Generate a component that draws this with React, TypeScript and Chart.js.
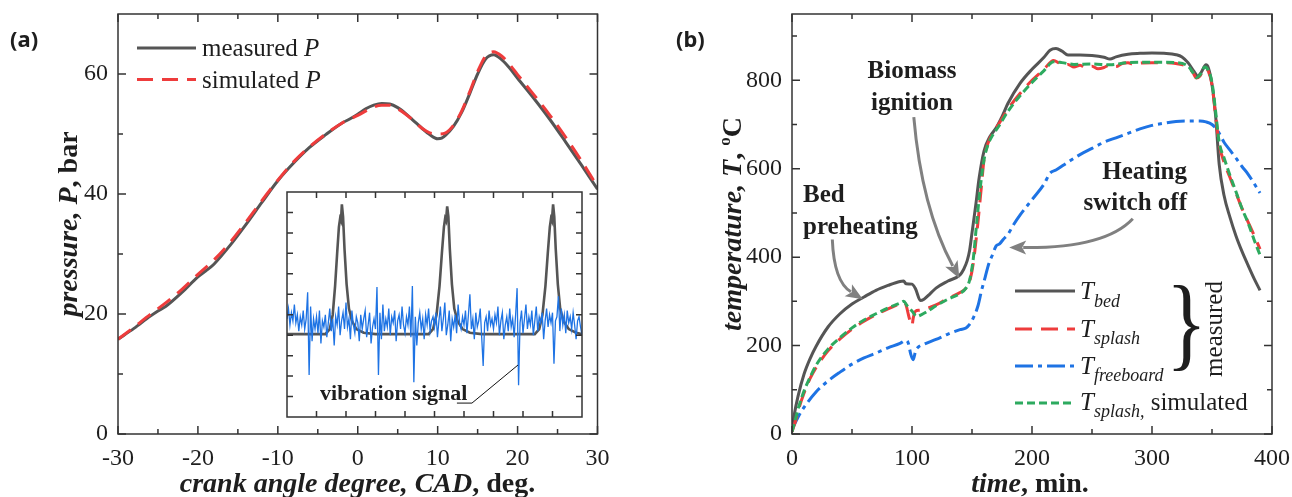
import React, { useEffect, useRef } from 'react';
import { Chart, registerables } from 'chart.js';

Chart.register(...registerables);

const SERIF = '"Liberation Serif", "Times New Roman", serif';
const SANS = '"Noto Sans", "Liberation Sans", sans-serif';
const INK = '#1e1e1e';
const FRAME = '#333333';
const GRAY = 'rgb(85,85,85)';
const RED = 'rgb(238,60,60)';
const BLUE = 'rgb(30,115,228)';
const GREEN = 'rgb(45,170,95)';
const ARROW = 'rgb(128,128,128)';

// ---------------- Panel (a): pressure vs crank angle ----------------
const cadMeasured = [-30, -28, -26, -25, -24, -22, -20, -19, -18, -16, -14, -12, -10, -8, -6, -4, -2, -1, 0, 1, 2, 3, 4, 5, 6, 7, 8, 9, 10, 10.5, 11, 12, 13, 14, 15, 16, 17, 18, 19, 20, 22, 24, 26, 28, 30];
const pMeasured = [15.8, 17.6, 19.6, 20.5, 21.3, 23.6, 26.2, 27.2, 28.3, 31.4, 34.9, 38.6, 42.2, 45.2, 47.8, 49.9, 51.8, 52.5, 53.3, 54.2, 54.8, 55.1, 55.0, 54.4, 53.4, 52.2, 51.0, 49.9, 49.2, 49.3, 49.8, 51.3, 53.6, 56.7, 60.0, 62.5, 63.2, 62.4, 61.0, 59.3, 56.0, 52.5, 48.7, 44.8, 40.8];
const cadSimulated = [-30, -28, -26, -24, -22, -20, -18, -16, -14, -12, -10, -8, -6, -4, -2, 0, 2, 3, 4, 5, 6, 7, 8, 9, 10, 11, 12, 13, 14, 15, 16, 17, 18, 19, 20, 22, 24, 26, 28, 30];
const pSimulated = [15.8, 17.8, 19.9, 21.9, 24.1, 26.6, 29.0, 31.9, 35.3, 38.9, 42.3, 45.4, 47.9, 50.0, 51.8, 53.1, 54.5, 54.8, 54.8, 54.2, 53.3, 52.2, 51.0, 50.2, 50.0, 50.2, 51.5, 53.8, 57.0, 60.4, 63.0, 63.7, 63.0, 61.6, 59.9, 56.6, 53.2, 49.5, 45.5, 41.2];
const cadTicks = [-30, -20, -10, 0, 10, 20, 30];
const cadMinorTicks = [-25, -15, -5, 5, 15, 25];
const pTicks = [0, 20, 40, 60];
const pMinorTicks = [10, 30, 50];

// inset: pressure pulses and vibration signal (arbitrary units)
const insetPressureX = [0, 1.3, 1.45, 1.55, 1.63, 1.7, 1.76, 1.8, 1.83, 1.86, 1.9, 1.95, 2.02, 2.1, 2.2, 2.35, 2.6, 3.0, 4.8, 4.95, 5.07, 5.17, 5.25, 5.32, 5.36, 5.39, 5.43, 5.47, 5.52, 5.59, 5.67, 5.78, 5.95, 6.2, 6.6, 8.4, 8.55, 8.66, 8.76, 8.84, 8.91, 8.95, 8.98, 9.02, 9.06, 9.11, 9.18, 9.26, 9.37, 9.55, 9.8, 10];
const insetPressureY = [4.05, 4.05, 4.3, 5.0, 6.4, 8.0, 9.3, 9.7, 9.6, 10.4, 9.8, 8.2, 6.5, 5.3, 4.7, 4.3, 4.12, 4.05, 4.05, 4.3, 5.0, 6.4, 8.0, 9.3, 9.7, 9.6, 10.3, 9.8, 8.2, 6.5, 5.3, 4.7, 4.3, 4.12, 4.05, 4.05, 4.3, 5.0, 6.4, 8.0, 9.3, 9.7, 9.6, 10.4, 9.8, 8.2, 6.5, 5.3, 4.7, 4.3, 4.12, 4.05];
const vibrationStep = 0.05;
const vibrationSignal = [
  4.8, 5.3, 4.5, 5.1, 4.7, 5.5, 4.6, 5.0, 4.2, 4.9, 4.5, 5.2, 4.3, 4.8, 6.1, 2.05, 5.4, 3.7, 4.8, 4.3,
  4.9, 4.1, 5.2, 3.6, 4.7, 4.4, 5.0, 3.9, 4.6, 5.3, 4.2, 4.8, 3.5, 4.9, 4.5, 5.4, 4.0, 4.7, 5.1, 4.3,
  5.6, 4.4, 4.8, 3.8, 5.2, 4.5, 4.1, 4.9, 4.6, 3.7, 5.0, 4.3, 4.8, 5.2, 3.9, 4.5, 5.1, 3.6, 4.4, 4.8,
  4.3, 6.36, 2.05, 5.1, 3.8, 5.5, 4.2, 4.8, 4.4, 5.3, 4.0, 4.9, 4.6, 5.2, 3.7, 4.7, 5.0, 4.3, 5.4, 4.5,
  4.1, 4.9, 4.5, 5.4, 3.9, 6.4, 1.7, 4.9, 3.5, 4.6, 5.1, 4.3, 4.8, 3.8, 5.0, 4.5, 5.3, 4.2, 4.7, 4.9,
  4.4, 5.1, 3.9, 4.7, 5.4, 4.2, 4.8, 5.6, 4.0, 4.5, 5.2, 3.7, 4.8, 4.4, 5.0, 4.1, 5.5, 4.6, 4.3, 4.9,
  4.5, 5.2, 4.1, 5.0, 6.0, 4.3, 4.8, 3.8, 5.1, 4.4, 4.7, 5.3, 3.9, 2.5, 4.6, 4.9, 4.2, 5.2, 4.5, 4.8,
  4.3, 5.0, 4.6, 5.4, 4.0, 4.7, 5.1, 3.8, 4.5, 4.9, 4.2, 5.3, 4.4, 4.8, 3.9, 5.0, 6.3, 1.55, 4.6, 5.2,
  4.1, 4.8, 5.5, 4.3, 4.9, 4.5, 5.2, 4.0, 4.7, 5.4, 4.2, 4.9, 4.6, 5.1, 3.8, 4.7, 5.3, 4.4, 5.0, 4.6,
  5.1, 2.6, 4.7, 4.9, 5.9, 4.2, 5.3, 4.5, 5.0, 4.1, 5.2, 4.6, 4.9, 4.3, 5.1, 4.5, 3.8, 4.7, 4.9, 4.4, 4.0,
];
const insetXTicks = [1, 2, 3, 4, 5, 6, 7, 8, 9];
const insetYTicks = [1, 2, 3, 4, 5, 6, 7, 8, 9, 10];

// ---------------- Panel (b): temperature vs time ----------------
const timeBed = [0, 2, 5, 10, 15, 20, 30, 40, 50, 60, 70, 80, 90, 93, 95, 100, 103, 107, 110, 115, 120, 130, 140, 143, 146, 148, 150, 153, 156, 160, 165, 170, 175, 180, 190, 200, 210, 215, 220, 225, 230, 240, 250, 260, 265, 270, 280, 290, 300, 310, 320, 325, 330, 335, 338, 341, 345, 347, 350, 353, 356, 360, 365, 370, 375, 380, 385, 390];
const tempBed = [5, 45, 85, 135, 170, 198, 242, 272, 294, 310, 325, 336, 345, 346, 340, 339, 328, 302, 305, 317, 330, 346, 360, 372, 392, 415, 455, 515, 580, 640, 673, 692, 718, 748, 793, 825, 852, 868, 872, 866, 857, 857, 856, 852, 848, 853, 859, 861, 862, 861, 858, 853, 840, 820, 810, 818, 835, 828, 790, 720, 610, 540, 490, 448, 413, 382, 352, 325];
const timeSplash = [0, 3, 6, 10, 15, 20, 30, 40, 50, 60, 70, 80, 90, 93, 95, 97, 99, 100, 101, 103, 106, 110, 120, 130, 140, 145, 148, 151, 155, 158, 160, 163, 167, 172, 180, 190, 200, 210, 218, 222, 226, 230, 235, 240, 245, 250, 255, 260, 265, 270, 275, 280, 285, 290, 300, 310, 320, 330, 334, 337, 340, 344, 347, 350, 353, 356, 360, 365, 370, 375, 380, 385, 390];
const tempSplash = [5, 30, 60, 92, 125, 150, 188, 215, 237, 255, 270, 283, 295, 298, 292, 270, 250, 245, 262, 278, 280, 282, 292, 307, 320, 330, 345, 385, 480, 565, 620, 655, 680, 700, 735, 770, 800, 825, 845, 840, 833, 836, 830, 834, 828, 832, 826, 829, 835, 831, 838, 840, 836, 839, 840, 840, 838, 830, 818, 805, 810, 828, 820, 790, 720, 655, 615, 580, 545, 510, 480, 450, 418];
const timeFreeboard = [0, 5, 10, 20, 30, 40, 50, 60, 70, 80, 90, 95, 97, 99, 101, 103, 105, 110, 120, 130, 140, 145, 148, 151, 155, 158, 161, 164, 167, 170, 173, 176, 180, 185, 190, 200, 210, 215, 220, 230, 240, 250, 260, 270, 280, 290, 300, 310, 320, 330, 340, 345, 350, 355, 360, 365, 370, 375, 380, 385, 390];
const tempFreeboard = [10, 38, 60, 95, 120, 140, 158, 172, 183, 195, 205, 212, 205, 180, 168, 188, 196, 203, 214, 226, 236, 240, 248, 262, 290, 325, 355, 385, 405, 425, 430, 440, 452, 475, 495, 530, 565, 590, 597, 615, 632, 646, 660, 670, 680, 690, 698, 703, 707, 708, 708, 706, 700, 685, 660, 642, 624, 605, 588, 567, 545];
const timeSimulated = [0, 3, 6, 10, 15, 20, 30, 40, 50, 60, 70, 80, 90, 93, 96, 100, 104, 108, 112, 120, 130, 140, 145, 148, 151, 154, 157, 160, 163, 167, 172, 180, 190, 200, 210, 218, 225, 235, 250, 265, 280, 300, 320, 330, 334, 337, 340, 344, 347, 350, 353, 356, 360, 365, 370, 375, 380, 385, 390];
const tempSimulated = [5, 35, 65, 97, 128, 155, 192, 218, 240, 258, 272, 285, 296, 300, 290, 278, 266, 270, 276, 290, 305, 318, 330, 348, 395, 480, 560, 620, 652, 675, 695, 730, 765, 795, 822, 842, 840, 836, 837, 835, 840, 841, 840, 832, 818, 806, 812, 830, 822, 795, 730, 660, 625, 585, 548, 510, 478, 440, 405];
const timeTicks = [0, 100, 200, 300, 400];
const timeMinorTicks = [50, 150, 250, 350];
const tempTicks = [0, 200, 400, 600, 800];
const tempMinorTicks = [100, 300, 500, 700, 900];

// annotation arrows in data coordinates: start, control, end
const arrowBed = [[33.6, 440], [35, 345], [59, 305]];
const arrowIgnition = [[101.5, 717], [108, 512], [139.5, 352]];
const arrowHeating = [[284, 487], [261, 420], [181, 422]];

// ---------------- helpers ----------------
type Pt = { x: number; y: number };
const zip = (xs: number[], ys: number[]): Pt[] => xs.map((x, i) => ({ x, y: ys[i] }));

type Run = { t: string; f: string; dy?: number };
function runsWidth(ctx: CanvasRenderingContext2D, runs: Run[]) {
  let w = 0;
  for (const r of runs) {
    ctx.font = r.f;
    w += ctx.measureText(r.t).width;
  }
  return w;
}
function drawRuns(ctx: CanvasRenderingContext2D, runs: Run[], x: number, y: number, align: 'left' | 'center' | 'right') {
  const w = runsWidth(ctx, runs);
  let cx = align === 'left' ? x : align === 'center' ? x - w / 2 : x - w;
  ctx.textAlign = 'left';
  ctx.textBaseline = 'alphabetic';
  for (const r of runs) {
    ctx.font = r.f;
    ctx.fillText(r.t, cx, y + (r.dy || 0));
    cx += ctx.measureText(r.t).width;
  }
}
function drawRotated(ctx: CanvasRenderingContext2D, runs: Run[], baseX: number, centerY: number) {
  ctx.save();
  ctx.translate(baseX, centerY);
  ctx.rotate(-Math.PI / 2);
  drawRuns(ctx, runs, 0, 0, 'center');
  ctx.restore();
}

function framePlugin(spec: { xMajor: number[]; xMinor: number[]; yMajor: number[]; yMinor: number[]; major: number; minor: number; lw: number }) {
  return {
    id: 'frameTicks',
    afterDatasetsDraw(chart: any) {
      const { ctx, chartArea: a } = chart;
      const xs = chart.scales.x;
      const ys = chart.scales.y;
      ctx.save();
      ctx.strokeStyle = FRAME;
      ctx.lineWidth = spec.lw;
      ctx.setLineDash([]);
      ctx.beginPath();
      const seg = (x1: number, y1: number, x2: number, y2: number) => {
        ctx.moveTo(x1, y1);
        ctx.lineTo(x2, y2);
      };
      const xt = (vals: number[], len: number) => {
        for (const v of vals) {
          const p = xs.getPixelForValue(v);
          seg(p, a.bottom, p, a.bottom - len);
          seg(p, a.top, p, a.top + len);
        }
      };
      const yt = (vals: number[], len: number) => {
        for (const v of vals) {
          const p = ys.getPixelForValue(v);
          seg(a.left, p, a.left + len, p);
          seg(a.right, p, a.right - len, p);
        }
      };
      xt(spec.xMajor, spec.major);
      xt(spec.xMinor, spec.minor);
      yt(spec.yMajor, spec.major);
      yt(spec.yMinor, spec.minor);
      ctx.stroke();
      ctx.strokeRect(a.left, a.top, a.right - a.left, a.bottom - a.top);
      ctx.restore();
    },
  };
}

const tickFont = { family: SERIF, size: 24 };
const axisBase = (ticks: number[], fit: (s: any) => void, padding: number) => ({
  type: 'linear' as const,
  grid: { display: false, drawTicks: false },
  border: { display: false },
  ticks: { font: tickFont, color: INK, padding, maxRotation: 0, autoSkip: false },
  afterBuildTicks: (s: any) => {
    s.ticks = ticks.map((v) => ({ value: v }));
  },
  afterFit: (s: any) => {
    fit(s);
    s.paddingTop = 0;
    s.paddingBottom = 0;
    s.paddingLeft = 0;
    s.paddingRight = 0;
  },
});

function sampleLine(ctx: CanvasRenderingContext2D, x1: number, x2: number, y: number, color: string, dash: number[], lw: number) {
  ctx.save();
  ctx.strokeStyle = color;
  ctx.lineWidth = lw;
  ctx.setLineDash(dash);
  ctx.beginPath();
  ctx.moveTo(x1, y);
  ctx.lineTo(x2, y);
  ctx.stroke();
  ctx.restore();
}

function drawArrow(ctx: CanvasRenderingContext2D, s: number[], c: number[], e: number[]) {
  const ang = Math.atan2(e[1] - c[1], e[0] - c[0]);
  const L = 17;
  const W = 7;
  const bx = e[0] - L * Math.cos(ang);
  const by = e[1] - L * Math.sin(ang);
  ctx.save();
  ctx.strokeStyle = ARROW;
  ctx.fillStyle = ARROW;
  ctx.lineWidth = 3;
  ctx.setLineDash([]);
  ctx.beginPath();
  ctx.moveTo(s[0], s[1]);
  ctx.quadraticCurveTo(c[0], c[1], bx + 3 * Math.cos(ang), by + 3 * Math.sin(ang));
  ctx.stroke();
  ctx.beginPath();
  ctx.moveTo(e[0], e[1]);
  ctx.lineTo(bx + W * Math.sin(ang), by - W * Math.cos(ang));
  ctx.lineTo(bx + 4 * Math.cos(ang), by + 4 * Math.sin(ang));
  ctx.lineTo(bx - W * Math.sin(ang), by + W * Math.cos(ang));
  ctx.closePath();
  ctx.fill();
  ctx.restore();
}

// ---------------- text plugins ----------------
const textA = {
  id: 'textA',
  afterDraw(chart: any) {
    const ctx: CanvasRenderingContext2D = chart.ctx;
    ctx.save();
    ctx.fillStyle = INK;
    ctx.font = `bold 22px ${SANS}`;
    ctx.textAlign = 'left';
    ctx.textBaseline = 'alphabetic';
    ctx.fillText('(a)', 10, 47);
    // legend
    sampleLine(ctx, 137, 196, 48, GRAY, [], 3);
    sampleLine(ctx, 137, 196, 79.5, RED, [16, 9], 3);
    ctx.fillStyle = INK;
    drawRuns(ctx, [{ t: 'measured ', f: `25px ${SERIF}` }, { t: 'P', f: `italic 25px ${SERIF}` }], 202, 56, 'left');
    drawRuns(ctx, [{ t: 'simulated ', f: `25px ${SERIF}` }, { t: 'P', f: `italic 25px ${SERIF}` }], 202, 88, 'left');
    // axis titles
    drawRuns(ctx, [
      { t: 'crank angle degree, CAD', f: `bold italic 28px ${SERIF}` },
      { t: ', deg.', f: `bold 28px ${SERIF}` },
    ], 357.5, 492, 'center');
    drawRotated(ctx, [
      { t: 'pressure, P', f: `bold italic 28px ${SERIF}` },
      { t: ', bar', f: `bold 28px ${SERIF}` },
    ], 77, 224);
    ctx.restore();
  },
};

const textInset = {
  id: 'textInset',
  afterDraw(chart: any) {
    const ctx: CanvasRenderingContext2D = chart.ctx;
    const xs = chart.scales.x;
    const ys = chart.scales.y;
    ctx.save();
    ctx.fillStyle = INK;
    ctx.font = `bold 22px ${SERIF}`;
    ctx.textAlign = 'left';
    ctx.textBaseline = 'alphabetic';
    ctx.fillText('vibration signal', xs.getPixelForValue(1.12), ys.getPixelForValue(0.83));
    ctx.strokeStyle = '#111';
    ctx.lineWidth = 1;
    ctx.beginPath();
    ctx.moveTo(xs.getPixelForValue(5.76), ys.getPixelForValue(0.68));
    ctx.lineTo(xs.getPixelForValue(6.27), ys.getPixelForValue(0.68));
    ctx.lineTo(xs.getPixelForValue(7.83), ys.getPixelForValue(2.54));
    ctx.stroke();
    ctx.restore();
  },
};

const insetBackground = {
  id: 'insetBg',
  beforeDraw(chart: any) {
    const { ctx, chartArea: a } = chart;
    ctx.save();
    ctx.fillStyle = '#ffffff';
    ctx.fillRect(a.left, a.top, a.right - a.left, a.bottom - a.top);
    ctx.restore();
  },
};

const textB = {
  id: 'textB',
  afterDraw(chart: any) {
    const ctx: CanvasRenderingContext2D = chart.ctx;
    const xs = chart.scales.x;
    const ys = chart.scales.y;
    const px = (p: number[]) => [xs.getPixelForValue(p[0]), ys.getPixelForValue(p[1])];
    ctx.save();
    ctx.fillStyle = INK;
    ctx.font = `bold 22px ${SANS}`;
    ctx.textAlign = 'left';
    ctx.textBaseline = 'alphabetic';
    ctx.fillText('(b)', 36, 47);

    // annotations
    const bold = `bold 25px ${SERIF}`;
    ctx.font = bold;
    ctx.textAlign = 'center';
    ctx.fillText('Biomass', 272, 78);
    ctx.fillText('ignition', 272, 110);
    ctx.textAlign = 'left';
    ctx.fillText('Bed', 163, 202);
    ctx.fillText('preheating', 163, 234);
    ctx.textAlign = 'right';
    ctx.fillText('Heating', 547, 179);
    ctx.fillText('switch off', 547, 210);

    for (const a of [arrowBed, arrowIgnition, arrowHeating]) {
      drawArrow(ctx, px(a[0]), px(a[1]), px(a[2]));
    }

    // legend
    const rows = [291, 329, 366, 403];
    sampleLine(ctx, 375, 435, rows[0], GRAY, [], 3);
    sampleLine(ctx, 375, 435, rows[1], RED, [17, 9], 3);
    sampleLine(ctx, 375, 435, rows[2], BLUE, [18, 5, 4, 5], 3);
    sampleLine(ctx, 375, 435, rows[3], GREEN, [8, 4], 3);
    ctx.fillStyle = INK;
    const T = `italic 25px ${SERIF}`;
    const sub = `italic 18px ${SERIF}`;
    drawRuns(ctx, [{ t: 'T', f: T }, { t: 'bed', f: sub, dy: 8 }], 440, rows[0] + 7.5, 'left');
    drawRuns(ctx, [{ t: 'T', f: T }, { t: 'splash', f: sub, dy: 7 }], 440, rows[1] + 7.5, 'left');
    drawRuns(ctx, [{ t: 'T', f: T }, { t: 'freeboard', f: sub, dy: 7 }], 440, rows[2] + 7.5, 'left');
    drawRuns(ctx, [{ t: 'T', f: T }, { t: 'splash,', f: sub, dy: 7 }, { t: ' simulated', f: `25px ${SERIF}` }], 440, rows[3] + 7, 'left');

    // brace
    ctx.save();
    ctx.font = `60px ${SERIF}`;
    const m = ctx.measureText('}');
    const inkH = m.actualBoundingBoxAscent + m.actualBoundingBoxDescent;
    const inkW = m.actualBoundingBoxLeft + m.actualBoundingBoxRight;
    const sx = 27 / inkW;
    const sy = 88 / inkH;
    ctx.translate(533, 285);
    ctx.scale(sx, sy);
    ctx.textAlign = 'left';
    ctx.textBaseline = 'alphabetic';
    ctx.fillText('}', m.actualBoundingBoxLeft, m.actualBoundingBoxAscent);
    ctx.restore();
    drawRotated(ctx, [{ t: 'measured', f: `25px ${SERIF}` }], 582, 329);

    // axis titles
    drawRuns(ctx, [
      { t: 'time', f: `bold italic 28px ${SERIF}` },
      { t: ', min.', f: `bold 28px ${SERIF}` },
    ], 390, 492, 'center');
    drawRotated(ctx, [
      { t: 'temperature, T', f: `bold italic 28px ${SERIF}` },
      { t: ', ', f: `bold 28px ${SERIF}` },
      { t: 'o', f: `bold 17px ${SERIF}`, dy: -11 },
      { t: 'C', f: `bold 28px ${SERIF}` },
    ], 101, 224);
    ctx.restore();
  },
};

export default function App() {
  const aRef = useRef<HTMLCanvasElement>(null);
  const insetRef = useRef<HTMLCanvasElement>(null);
  const bRef = useRef<HTMLCanvasElement>(null);

  useEffect(() => {
    document.body.style.margin = '0';
    const charts: Chart[] = [];

    charts.push(
      new Chart(aRef.current as HTMLCanvasElement, {
        type: 'line',
        data: {
          datasets: [
            { data: zip(cadSimulated, pSimulated), borderColor: RED, borderWidth: 3, borderDash: [16, 9], pointRadius: 0, cubicInterpolationMode: 'monotone', fill: false },
            { data: zip(cadMeasured, pMeasured), borderColor: GRAY, borderWidth: 3, pointRadius: 0, cubicInterpolationMode: 'monotone', fill: false },
          ],
        },
        options: {
          responsive: false,
          animation: false,
          events: [],
          layout: { padding: { top: 14, right: 42.5, left: 0, bottom: 0 } },
          plugins: { legend: { display: false }, tooltip: { enabled: false } },
          scales: {
            x: { ...axisBase(cadTicks, (s: any) => { s.height = 63; }, 10), min: -30, max: 30 },
            y: { ...axisBase(pTicks, (s: any) => { s.width = 118; }, 10), min: 0, max: 70 },
          },
        } as any,
        plugins: [framePlugin({ xMajor: cadTicks, xMinor: cadMinorTicks, yMajor: pTicks, yMinor: pMinorTicks, major: 8, minor: 5, lw: 1.5 }), textA],
      })
    );

    charts.push(
      new Chart(insetRef.current as HTMLCanvasElement, {
        type: 'line',
        data: {
          datasets: [
            { data: vibrationSignal.map((y, i) => ({ x: i * vibrationStep, y })), borderColor: BLUE, borderWidth: 1.3, pointRadius: 0, tension: 0, fill: false },
            { data: zip(insetPressureX, insetPressureY), borderColor: GRAY, borderWidth: 2.6, pointRadius: 0, tension: 0, fill: false },
          ],
        },
        options: {
          responsive: false,
          animation: false,
          events: [],
          layout: { padding: 4 },
          plugins: { legend: { display: false }, tooltip: { enabled: false } },
          scales: {
            x: { type: 'linear', min: 0, max: 10, display: false },
            y: { type: 'linear', min: 0, max: 11, display: false },
          },
        } as any,
        plugins: [insetBackground, framePlugin({ xMajor: insetXTicks, xMinor: [], yMajor: insetYTicks, yMinor: [], major: 6, minor: 0, lw: 1.5 }), textInset],
      })
    );

    charts.push(
      new Chart(bRef.current as HTMLCanvasElement, {
        type: 'line',
        data: {
          datasets: [
            { data: zip(timeSimulated, tempSimulated), borderColor: GREEN, borderWidth: 3, borderDash: [8, 4], pointRadius: 0, cubicInterpolationMode: 'monotone', fill: false },
            { data: zip(timeSplash, tempSplash), borderColor: RED, borderWidth: 3, borderDash: [17, 9], pointRadius: 0, cubicInterpolationMode: 'monotone', fill: false },
            { data: zip(timeFreeboard, tempFreeboard), borderColor: BLUE, borderWidth: 3, borderDash: [18, 5, 4, 5], pointRadius: 0, cubicInterpolationMode: 'monotone', fill: false },
            { data: zip(timeBed, tempBed), borderColor: GRAY, borderWidth: 3, pointRadius: 0, cubicInterpolationMode: 'monotone', fill: false },
          ],
        },
        options: {
          responsive: false,
          animation: false,
          events: [],
          layout: { padding: { top: 14, right: 20, left: 0, bottom: 0 } },
          plugins: { legend: { display: false }, tooltip: { enabled: false } },
          scales: {
            x: { ...axisBase(timeTicks, (s: any) => { s.height = 63; }, 10), min: 0, max: 400 },
            y: { ...axisBase(tempTicks, (s: any) => { s.width = 152; }, 10), min: 0, max: 950 },
          },
        } as any,
        plugins: [framePlugin({ xMajor: timeTicks, xMinor: timeMinorTicks, yMajor: tempTicks, yMinor: tempMinorTicks, major: 8, minor: 5, lw: 1.5 }), textB],
      })
    );

    return () => {
      charts.forEach((c) => c.destroy());
    };
  }, []);

  return (
    <div style={{ position: 'relative', width: 1292, height: 497, background: '#ffffff', overflow: 'hidden' }}>
      <canvas ref={aRef} width={640} height={497} style={{ position: 'absolute', left: 0, top: 0, width: 640, height: 497 }} />
      <canvas ref={insetRef} width={303} height={233} style={{ position: 'absolute', left: 283, top: 188, width: 303, height: 233 }} />
      <canvas ref={bRef} width={652} height={497} style={{ position: 'absolute', left: 640, top: 0, width: 652, height: 497 }} />
    </div>
  );
}
